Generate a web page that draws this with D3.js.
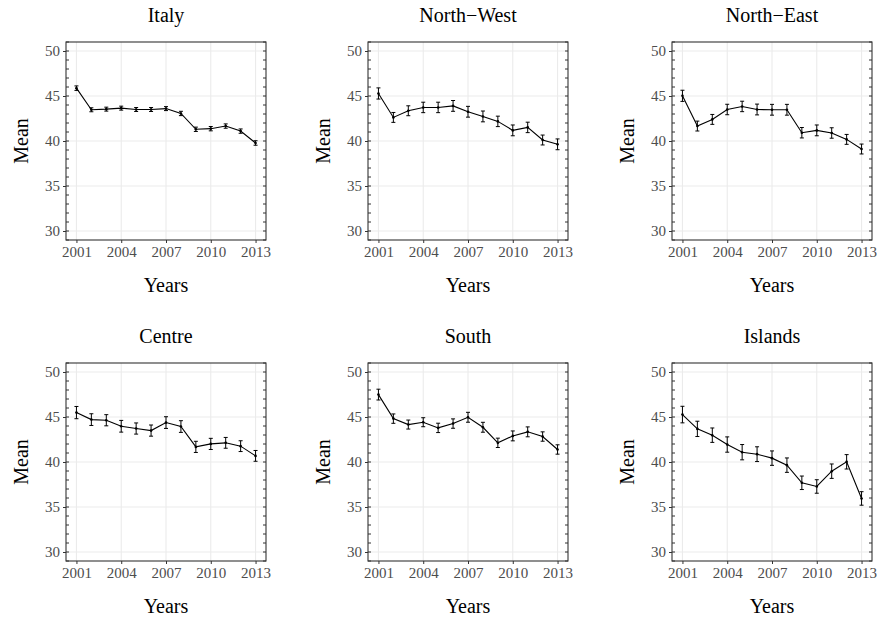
<!DOCTYPE html>
<html>
<head>
<meta charset="utf-8">
<script src="https://cdn.jsdelivr.net/npm/d3@7"></script>
<style>
  body { margin: 0; background: #fff; }
  text { font-family: "Liberation Serif", "DejaVu Serif", serif; }
</style>
</head>
<body>
<script>
// Chart data
var years = [2001, 2002, 2003, 2004, 2005, 2006, 2007, 2008, 2009, 2010, 2011, 2012, 2013];
var regions = ["Italy", "North\u2212West", "North\u2212East", "Centre", "South", "Islands"];

var italyMean   = [45.87, 43.47, 43.54, 43.65, 43.5, 43.5, 43.6, 43.06, 41.3, 41.37, 41.66, 41.1, 39.78];
var italyErr    = [0.25, 0.22, 0.22, 0.22, 0.22, 0.22, 0.22, 0.24, 0.24, 0.24, 0.24, 0.24, 0.25];
var nwMean      = [45.28, 42.62, 43.36, 43.73, 43.73, 43.9, 43.25, 42.73, 42.18, 41.18, 41.51, 40.11, 39.63];
var nwErr       = [0.62, 0.55, 0.55, 0.58, 0.58, 0.6, 0.6, 0.6, 0.58, 0.6, 0.58, 0.55, 0.6];
var neMean      = [45.02, 41.66, 42.4, 43.5, 43.84, 43.5, 43.47, 43.47, 40.92, 41.18, 40.89, 40.18, 39.11];
var neErr       = [0.62, 0.55, 0.55, 0.58, 0.58, 0.6, 0.6, 0.6, 0.58, 0.6, 0.58, 0.55, 0.55];
var centreMean  = [45.49, 44.71, 44.64, 43.97, 43.72, 43.49, 44.38, 43.94, 41.68, 42.01, 42.13, 41.76, 40.68];
var centreErr   = [0.68, 0.65, 0.62, 0.65, 0.62, 0.62, 0.65, 0.65, 0.62, 0.62, 0.6, 0.6, 0.6];
var southMean   = [47.49, 44.82, 44.16, 44.42, 43.79, 44.27, 44.97, 43.86, 42.13, 42.9, 43.35, 42.83, 41.39];
var southErr    = [0.6, 0.52, 0.5, 0.5, 0.52, 0.52, 0.55, 0.55, 0.52, 0.55, 0.55, 0.52, 0.52];
var islandsMean = [45.27, 43.68, 42.98, 41.94, 41.09, 40.87, 40.43, 39.65, 37.69, 37.28, 38.98, 40.02, 35.95];
var islandsErr  = [0.92, 0.85, 0.8, 0.85, 0.85, 0.82, 0.8, 0.8, 0.75, 0.75, 0.8, 0.8, 0.75];

var yTicks = [30, 35, 40, 45, 50];
var xTicks = [2001, 2004, 2007, 2010, 2013];

var means = [italyMean, nwMean, neMean, centreMean, southMean, islandsMean];
var errs = [italyErr, nwErr, neErr, centreErr, southErr, islandsErr];

// Layout
var svgWidth = 877, svgHeight = 620;
var colLeft = [66, 368, 672];
var rowTop = [42, 363];
var pw = 200, ph = 198;

var svg = d3.select("body").append("svg")
  .attr("width", svgWidth)
  .attr("height", svgHeight);

var x = d3.scaleLinear().domain([2000.3, 2013.7]).range([0, pw]);
var y = d3.scaleLinear().domain([29, 51]).range([ph, 0]);
var minorTicks = d3.range(29, 52, 1);

regions.forEach(function(name, i) {
  var left = colLeft[i % 3];
  var top = rowTop[Math.floor(i / 3)];
  var g = svg.append("g").attr("transform", `translate(${left}, ${top})`);

  var data = years.map(function(yr, j) {
    return { year: yr, mean: means[i][j], err: errs[i][j] };
  });

  // grid
  g.selectAll(".hgrid").data(yTicks).enter().append("line")
    .attr("x1", 0).attr("x2", pw)
    .attr("y1", d => y(d)).attr("y2", d => y(d))
    .attr("stroke", "#ebebeb").attr("stroke-width", 1.1);
  g.selectAll(".vgrid").data(xTicks).enter().append("line")
    .attr("y1", 0).attr("y2", ph)
    .attr("x1", d => x(d)).attr("x2", d => x(d))
    .attr("stroke", "#ebebeb").attr("stroke-width", 1.1);

  // error bars
  var cap = 2;
  var eb = g.selectAll(".eb").data(data).enter().append("g");
  eb.append("line")
    .attr("x1", d => x(d.year)).attr("x2", d => x(d.year))
    .attr("y1", d => y(d.mean - d.err)).attr("y2", d => y(d.mean + d.err))
    .attr("stroke", "#000").attr("stroke-width", 1);
  eb.append("line")
    .attr("x1", d => x(d.year) - cap).attr("x2", d => x(d.year) + cap)
    .attr("y1", d => y(d.mean + d.err)).attr("y2", d => y(d.mean + d.err))
    .attr("stroke", "#000").attr("stroke-width", 1);
  eb.append("line")
    .attr("x1", d => x(d.year) - cap).attr("x2", d => x(d.year) + cap)
    .attr("y1", d => y(d.mean - d.err)).attr("y2", d => y(d.mean - d.err))
    .attr("stroke", "#000").attr("stroke-width", 1);

  // line
  var line = d3.line().x(d => x(d.year)).y(d => y(d.mean));
  g.append("path").datum(data)
    .attr("d", line)
    .attr("fill", "none")
    .attr("stroke", "#000")
    .attr("stroke-width", 1.1);

  g.selectAll(".pt").data(data).enter().append("circle")
    .attr("cx", d => x(d.year)).attr("cy", d => y(d.mean))
    .attr("r", 1.3).attr("fill", "#000");

  // inner minor ticks on both sides
  g.selectAll(".ltick").data(minorTicks).enter().append("line")
    .attr("x1", 0).attr("x2", 3)
    .attr("y1", d => y(d)).attr("y2", d => y(d))
    .attr("stroke", "#333").attr("stroke-width", 1);
  g.selectAll(".rtick").data(minorTicks).enter().append("line")
    .attr("x1", pw - 3).attr("x2", pw)
    .attr("y1", d => y(d)).attr("y2", d => y(d))
    .attr("stroke", "#333").attr("stroke-width", 1);

  // axes
  var leftAxis = d3.axisLeft(y).tickValues(yTicks).tickSize(3).tickPadding(3);
  var bottomAxis = d3.axisBottom(x).tickValues(xTicks).tickSize(3).tickPadding(3).tickFormat(d3.format("d"));

  var ya = g.append("g").call(leftAxis);
  var xa = g.append("g").attr("transform", `translate(0, ${ph})`).call(bottomAxis);
  [ya, xa].forEach(function(a) {
    a.select(".domain").remove();
    a.selectAll(".tick line").attr("stroke", "#333");
    a.selectAll(".tick text")
      .attr("fill", "#4d4d4d")
      .style("font-family", "'Liberation Serif', serif")
      .style("font-size", "15px");
  });

  // panel border
  g.append("rect")
    .attr("x", 0).attr("y", 0)
    .attr("width", pw).attr("height", ph)
    .attr("fill", "none")
    .attr("stroke", "#333")
    .attr("stroke-width", 1.1);

  // titles
  g.append("text")
    .attr("x", pw / 2).attr("y", -20)
    .attr("text-anchor", "middle")
    .style("font-size", "20px")
    .attr("fill", "#000")
    .text(name);

  g.append("text")
    .attr("x", pw / 2).attr("y", ph + 52)
    .attr("text-anchor", "middle")
    .style("font-size", "20px")
    .attr("fill", "#000")
    .text("Years");

  g.append("text")
    .attr("transform", `translate(-38, ${ph / 2}) rotate(-90)`)
    .attr("text-anchor", "middle")
    .style("font-size", "20px")
    .attr("fill", "#000")
    .text("Mean");
});
</script>
</body>
</html>
